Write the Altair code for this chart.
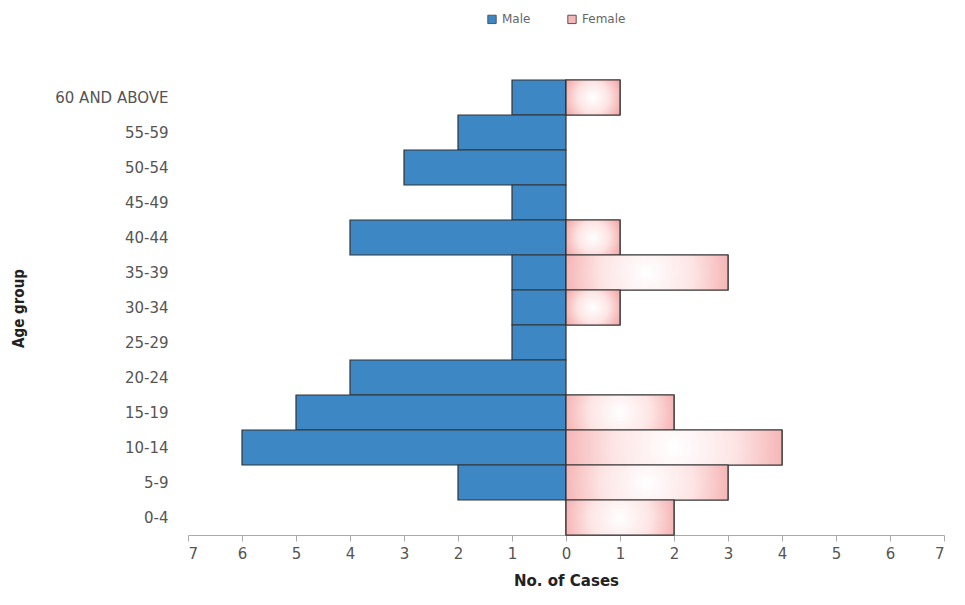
import altair as alt
import pandas as pd

age_groups = ["60 AND ABOVE", "55-59", "50-54", "45-49", "40-44", "35-39", "30-34",
              "25-29", "20-24", "15-19", "10-14", "5-9", "0-4"]
male = [1, 2, 3, 1, 4, 1, 1, 1, 4, 5, 6, 2, 0]
female = [1, 0, 0, 0, 1, 3, 1, 0, 0, 2, 4, 3, 2]

rows = []
for a, m, f in zip(age_groups, male, female):
    if m:
        rows.append({"age": a, "sex": "Male", "value": -m})
    if f:
        rows.append({"age": a, "sex": "Female", "value": f})
df = pd.DataFrame(rows)

font = "DejaVu Sans"
narrow = "'DejaVu Sans Condensed', 'Liberation Sans Narrow', Roboto, sans-serif"

y_enc = alt.Y("age:N", sort=age_groups, scale=alt.Scale(domain=age_groups, paddingInner=0, paddingOuter=0),
              axis=alt.Axis(title="Age group", titleFont=narrow, titleFontSize=15,
                            titleFontWeight="bold", titleColor="#222", titleX=-170, titleY=228,
                            titleAngle=-90, titleAlign="center", titleBaseline="middle",
                            domain=False, ticks=False, labelPadding=20,
                            labelFont=font, labelFontSize=15, labelColor="#555"))
x_enc = alt.X("value:Q", scale=alt.Scale(domain=[-7, 7], nice=False),
              axis=alt.Axis(title="No. of Cases", titleFont=font, titleFontSize=15, titleFontWeight="bold",
                            titleColor="#222", titlePadding=12, values=list(range(-7, 8)),
                            labelExpr="abs(datum.value)", grid=False, domainColor="#aaa",
                            tickColor="#aaa", tickSize=6, labelFont=font, labelFontSize=15,
                            labelColor="#555", labelPadding=5))

base = alt.Chart(df).mark_bar(stroke="#333", strokeWidth=1.2).encode(
    y=y_enc, x=x_enc,
    color=alt.Color("sex:N", scale=alt.Scale(domain=["Male", "Female"], range=["#3d88c4", "#f4b8b8"]),
                    legend=alt.Legend(title=None, orient="none", legendX=298, legendY=-67,
                                      direction="horizontal", symbolType="square", symbolSize=70,
                                      symbolStrokeColor="#555", symbolStrokeWidth=1,
                                      labelFont=font, labelFontSize=12, labelColor="#666",
                                      columnPadding=34)),
)

grad = alt.Gradient(gradient="radial",
                    stops=[alt.GradientStop(offset=0, color="#ffffff"),
                           alt.GradientStop(offset=0.4, color="#fde4e4"),
                           alt.GradientStop(offset=1, color="#ee8888")],
                    x1=0.5, y1=0.5, r1=0, x2=0.5, y2=0.5, r2=0.72)

fem = alt.Chart(df).transform_filter("datum.sex == 'Female'").mark_bar(
    stroke="#333", strokeWidth=1.2, fill=grad).encode(y=y_enc, x=x_enc)

chart = alt.layer(base, fem).properties(
    width=756, height=455,
    autosize=alt.AutoSizeParams(type="none"),
    padding={"left": 180, "top": 72, "right": 8, "bottom": 56},
).configure_view(stroke=None)

chart.save("out.html", embed_options={"renderer": "svg", "actions": False})
